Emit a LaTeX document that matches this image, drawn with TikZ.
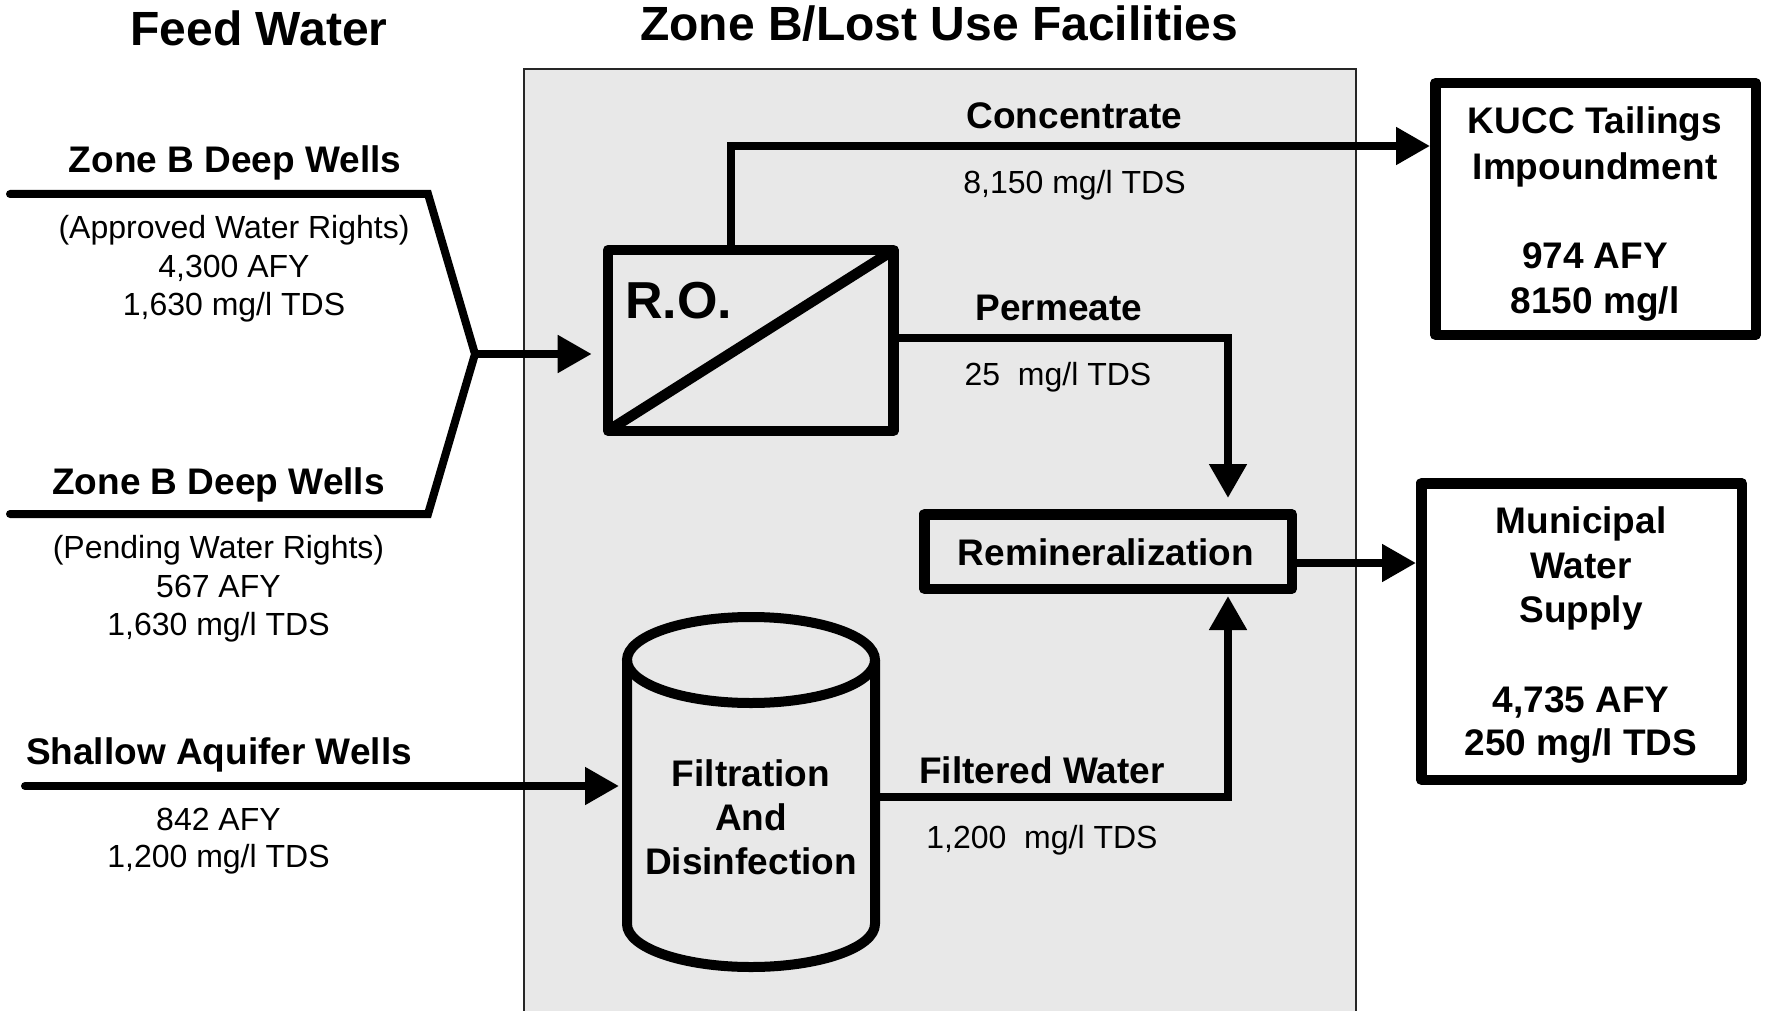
\documentclass[tikz,border=0pt]{standalone}
\usepackage{fontspec}
\setmainfont{Liberation Sans}
\usetikzlibrary{arrows.meta}
\newcommand\ttlfnt{\fontsize{48}{58}\selectfont\bfseries}
\newcommand\labfnt{\fontsize{37}{44.5}\selectfont\bfseries}
\newcommand\valfnt{\fontsize{32}{38.5}\selectfont}
\newcommand\rofnt{\fontsize{52}{62}\selectfont\bfseries}
\definecolor{zonegray}{RGB}{232,232,232}
\begin{document}
\begin{tikzpicture}[x=1pt,y=-1pt,
  flow/.style={draw=black, line width=8pt, line join=miter},
  flowarr/.style={flow, -{Triangle[length=34pt,width=36pt]}},
  pbox/.style={draw=black, line width=10.5pt, line join=round, inner sep=0pt, outer sep=5.25pt},
  ttl/.style={font=\ttlfnt, anchor=base, inner sep=0pt},
  lab/.style={font=\labfnt, anchor=base, inner sep=0pt},
  val/.style={font=\valfnt, anchor=base, inner sep=0pt},
]
\useasboundingbox (0,0) rectangle (1766,1011);
\fill[white] (0,0) rectangle (1766,1011);

% zone background
\draw[fill=zonegray, draw=black!85, line width=2pt] (524,69) rectangle (1356,1016);

% titles
\node[ttl] (t1) at (259,46) {Feed Water};
\node[ttl] (t2) at (939,40.5) {Zone B/Lost Use Facilities};

% process boxes
\node[pbox, minimum width=285.7, minimum height=180.7] (ro) at (750.8,340.4) {};
\draw[line width=10.5pt] ([shift={(5.25pt,5.25pt)}]ro.south west) -- ([shift={(-5.25pt,-5.25pt)}]ro.north east);
\node[font=\rofnt, anchor=base west, inner sep=0pt] (rolab) at (625,318.5) {R.O.};

\node[pbox, minimum width=367.5, minimum height=74.5] (remin) at (1108,551.5) {};
\node[lab] (remtxt) at (1106,565) {Remineralization};

\node[pbox, minimum width=320.5, minimum height=251.5] (kucc) at (1595.5,209) {};
\node[lab] (k1) at (1595,134) {KUCC Tailings};
\node[lab] (k2) at (1595,179.5) {Impoundment};
\node[lab] (k3) at (1595,268) {974 AFY};
\node[lab] (k4) at (1595,313) {8150 mg/l};

\node[pbox, minimum width=320.5, minimum height=296.5] (muni) at (1581.5,631.5) {};
\node[lab] (m1) at (1581,533.5) {Municipal};
\node[lab] (m2) at (1581,578) {Water};
\node[lab] (m3) at (1581,622) {Supply};
\node[lab] (m4) at (1581,712.5) {4,735 AFY};
\node[lab] (m5) at (1581,755.5) {250 mg/l TDS};

% cylinder
\node[inner sep=0pt, outer sep=0pt, minimum width=258, minimum height=360] (cyl) at (751,792) {};
\draw[line width=10pt, line join=round] (627,660) -- (627,924)
  arc[start angle=180, end angle=360, x radius=124pt, y radius=43pt] -- (875,660);
\draw[line width=10pt] (751,660) ellipse [x radius=124pt, y radius=43pt];
\node[lab] (f1) at (751,786) {Filtration};
\node[lab] (f2) at (751,830) {And};
\node[lab] (f3) at (751,874) {Disinfection};

% feed water inputs
\coordinate (fwA) at (10,194);
\coordinate (fwAc) at (428,194);
\coordinate (J) at (475,354);
\coordinate (fwBc) at (428,514);
\coordinate (fwB) at (10,514);
\draw[flow, line cap=round] (fwA) -- (fwAc) -- (J) -- (fwBc) -- (fwB);
\draw[flowarr, shorten >=11pt] (J) -- (ro.west |- J);

\node[lab] (zb1) at (235,173) {Zone B Deep Wells};
\node[val] (zb1a) at (234,238.5) {(Approved Water Rights)};
\node[val] (zb1b) at (234,277) {4,300 AFY};
\node[val] (zb1c) at (234,315.5) {1,630 mg/l TDS};
\node[lab] (zb2) at (218.5,494) {Zone B Deep Wells};
\node[val] (zb2a) at (218.5,558) {(Pending Water Rights)};
\node[val] (zb2b) at (218.5,597) {567 AFY};
\node[val] (zb2c) at (218.5,635) {1,630 mg/l TDS};

\coordinate (sa) at (25,786);
\draw[flowarr, line cap=round, shorten >=3pt] (sa) -- (sa -| cyl.west);
\node[lab] (sa0) at (219,764) {Shallow Aquifer Wells};
\node[val] (sa1) at (218.5,830) {842 AFY};
\node[val] (sa2) at (218.5,867) {1,200 mg/l TDS};

% concentrate
\coordinate (cc) at (731,146);
\draw[flowarr] (ro.north -| cc) -- (cc) -- (cc -| kucc.west);
\node[lab] (conc) at (1074.5,129) {Concentrate};
\node[val] (concv) at (1074.5,193.5) {8,150 mg/l TDS};

% permeate
\coordinate (pm) at (1228,338);
\draw[flowarr, shorten >=11pt] (ro.east |- pm) -- (pm) -- (pm |- remin.north);
\node[lab] (perm) at (1059,320.5) {Permeate};
\node[val] (permv) at (1058,385) {25~~mg/l TDS};

% filtered water
\coordinate (fw) at (1228,797);
\draw[flowarr, shorten >=2pt] (cyl.east |- fw) -- (fw) -- (fw |- remin.south);
\node[lab] (filtw) at (1042,783) {Filtered Water};
\node[val] (filtv) at (1042,848) {1,200~~mg/l TDS};

% to municipal supply
\coordinate (rm) at (1300,563);
\draw[flowarr] (remin.east |- rm) -- (rm -| muni.west);
\end{tikzpicture}
\end{document}
